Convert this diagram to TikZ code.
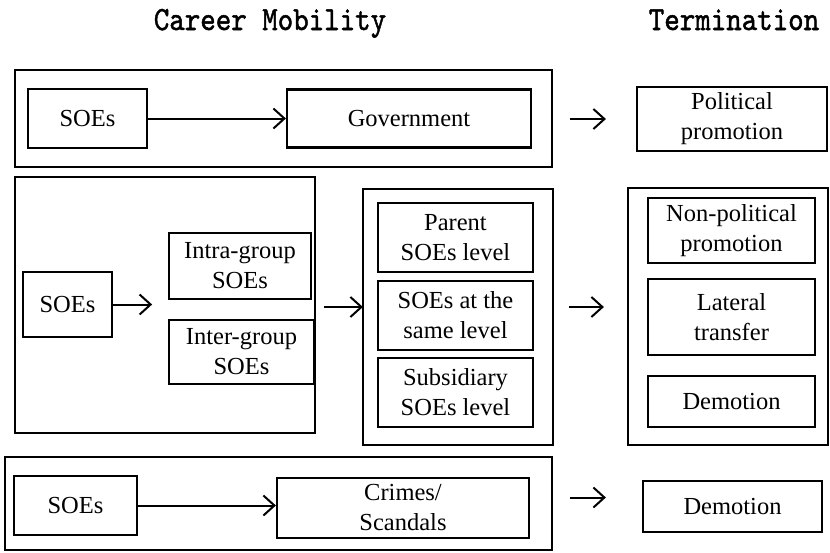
\documentclass[tikz,border=0pt]{standalone}
\usepackage{fontspec}
\usepackage{graphicx}
\setmainfont{Liberation Serif}
\newfontfamily\titlefont[FakeBold=1.5]{lmmono10-regular.otf}
\usetikzlibrary{arrows.meta}
\begin{document}
\begin{tikzpicture}[x=1pt,y=-1pt,
  box/.style={draw, line width=2.2pt, inner sep=0pt, align=center,
    font=\fontsize{24.5}{30}\selectfont},
  frame/.style={draw, line width=2.2pt, inner sep=0pt},
  arr/.style={line width=2pt, -{Straight Barb[length=11pt,width=20pt,line width=2pt]}},
  ttl/.style={anchor=base, inner sep=0pt, font=\titlefont\bfseries\fontsize{29.5}{30}\selectfont}]
\useasboundingbox (0,0) rectangle (830,552);
% titles
\node[ttl] (t1) at (270,30) {\scalebox{1}[1.15]{Career Mobility}};
\node[ttl] (t2) at (734,30) {\scalebox{1}[1.15]{Termination}};
% row 1
\node[frame, minimum width=537, minimum height=97] (top) at (283.5,118.5) {};
\node[box, minimum width=119, minimum height=59] (soe1) at (87.5,118.5) {SOEs};
\node[box, minimum width=244, minimum height=58] (gov) at (409,118.5) {Government};
\node[box, minimum width=190, minimum height=64] (pol) at (732,119) {Political\\promotion};
% row 2
\node[frame, minimum width=300, minimum height=256] (left) at (165,305) {};
\node[box, minimum width=89, minimum height=65] (soe2) at (67.5,304.5) {SOEs};
\node[box, minimum width=142, minimum height=66] (intra) at (240,266) {Intra-group\\SOEs};
\node[box, minimum width=145, minimum height=64] (inter) at (241.5,352) {Inter-group\\SOEs};
\node[frame, minimum width=190, minimum height=256] (mid) at (458,317) {};
\node[box, minimum width=155, minimum height=69] (parent) at (455.5,237.5) {Parent\\SOEs level};
\node[box, minimum width=155, minimum height=69] (same) at (455.5,315.5) {SOEs at the\\same level};
\node[box, minimum width=155, minimum height=69] (subs) at (455.5,392.5) {Subsidiary\\SOEs level};
\node[frame, minimum width=200, minimum height=257] (right) at (728,316.5) {};
\node[box, minimum width=167, minimum height=65] (nonpol) at (731.5,230.5) {Non-political\\promotion};
\node[box, minimum width=167, minimum height=76] (lateral) at (731.5,317) {Lateral\\transfer};
\node[box, minimum width=167, minimum height=51] (dem1) at (731.5,401.5) {Demotion};
% row 3
\node[frame, minimum width=547, minimum height=93] (bottom) at (278.5,503.5) {};
\node[box, minimum width=123, minimum height=59] (soe3) at (75.5,505.5) {SOEs};
\node[box, minimum width=252, minimum height=60] (crimes) at (403,508) {Crimes/\\Scandals};
\node[box, minimum width=179, minimum height=51] (dem2) at (732.5,506.5) {Demotion};
% arrows
\draw[arr] (soe1.east) -- (soe1.east -| gov.west);
\draw[arr] ([shift={(17,0.5)}]top.east) -- ([shift={(-30,0.5)}]top.east -| pol.west);
\draw[arr] (soe2.east) -- ++(39,0);
\draw[arr] ([shift={(8,2)}]left.east) -- ([shift={(1,2)}]left.east -| mid.west);
\draw[arr] ([shift={(15,-10)}]mid.east) -- ([shift={(-23,-10)}]mid.east -| right.west);
\draw[arr] (soe3.east) -- (soe3.east -| crimes.west);
\draw[arr] ([shift={(17,-6)}]bottom.east) -- ([shift={(-36,-6)}]bottom.east -| dem2.west);
\end{tikzpicture}
\end{document}
